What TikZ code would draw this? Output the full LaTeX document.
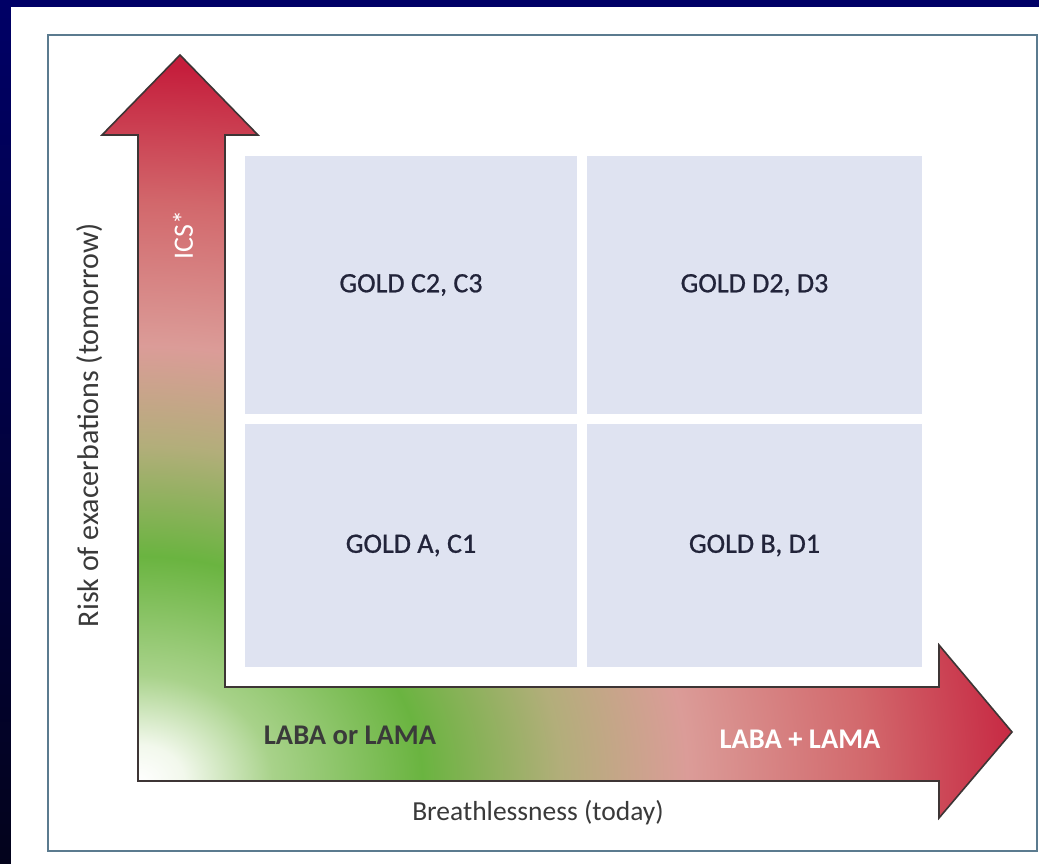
\documentclass[tikz,border=0pt]{standalone}
\usepackage{fontspec}
\setmainfont{Carlito}
\newfontfamily\goldfont[FakeBold=0.8]{Carlito}
\definecolor{navy}{HTML}{000066}
\definecolor{navydark}{HTML}{03031C}
\definecolor{framec}{HTML}{5B7B8F}
\definecolor{boxc}{HTML}{DFE3F1}
\definecolor{gtext}{HTML}{22243A}
\definecolor{ltext}{HTML}{3A3A3A}
\definecolor{outl}{HTML}{3D3535}
\definecolor{c0}{HTML}{FFFFFF}
\definecolor{c1}{HTML}{F2F8EC}
\definecolor{c2}{HTML}{A8D28A}
\definecolor{c3}{HTML}{6AB440}
\definecolor{c4}{HTML}{B2AE7A}
\definecolor{c5}{HTML}{DB9C98}
\definecolor{c6}{HTML}{D2686C}
\definecolor{c7}{HTML}{C51E3C}
\pgfdeclareradialshading{arrowgrad}{\pgfpointorigin}{color(0bp)=(c0); color(1.2bp)=(c1); color(3.5bp)=(c2); color(7.4bp)=(c3); color(11bp)=(c4); color(14.3bp)=(c5); color(19bp)=(c6); color(23.5bp)=(c7); color(50bp)=(c7)}
\begin{document}
\begin{tikzpicture}[x=1pt,y=-1pt,
  quad/.style={fill=boxc, draw=none, inner sep=0pt, text=gtext, font=\goldfont\fontsize{28}{30}\selectfont},
  axlab/.style={text=ltext, inner sep=0pt},
  armlab/.style={inner sep=0pt, font=\fontsize{28.5}{30}\selectfont\bfseries}]
\useasboundingbox (0,0) rectangle (1039,864);
% background
\shade[top color=navy, bottom color=navydark] (0,0) rectangle (1039,864);
\fill[navy] (0,0) rectangle (1039,7);
\fill[white] (11,7) rectangle (1039,864);
\draw[framec, line width=2pt] (48,35) rectangle (1037,851);
% quadrants
\node[quad, minimum width=332pt, minimum height=258pt] (c23) at (411,285) {GOLD C2, C3};
\node[quad, minimum width=335pt, minimum height=258pt] (d23) at (754.5,285) {GOLD D2, D3};
\node[quad, minimum width=332pt, minimum height=243pt] (ac1) at (411,545.5) {GOLD A, C1};
\node[quad, minimum width=335pt, minimum height=243pt] (bd1) at (754.5,545.5) {GOLD B, D1};
% L-shaped arrow
\def\arrowpath{(138,781) -- (138,135) -- (102,135) -- (180,55) -- (258,135) -- (225,135) -- (225,687) -- (939,687) -- (939,645) -- (1012,732) -- (939,818) -- (939,781) -- cycle}
\begin{scope}
\clip \arrowpath;
\shade[shading=arrowgrad] (-822,21) rectangle (1098,1541);
\end{scope}
\draw[outl, line width=1.6pt, line join=miter] \arrowpath;
% labels
\node[armlab, text=white, rotate=90, font=\fontsize{28}{30}\selectfont] (ics) at (183,235) {ICS*};
\node[armlab, text=ltext] (lor) at (350,735) {LABA or LAMA};
\node[armlab, text=white] (lpl) at (800,739) {LABA + LAMA};
\node[axlab, rotate=90, font=\fontsize{30}{32}\selectfont] (risk) at (90,425) {Risk of exacerbations (tomorrow)};
\node[axlab, font=\fontsize{27.5}{30}\selectfont] (breath) at (538,813) {Breathlessness (today)};
\end{tikzpicture}
\end{document}
